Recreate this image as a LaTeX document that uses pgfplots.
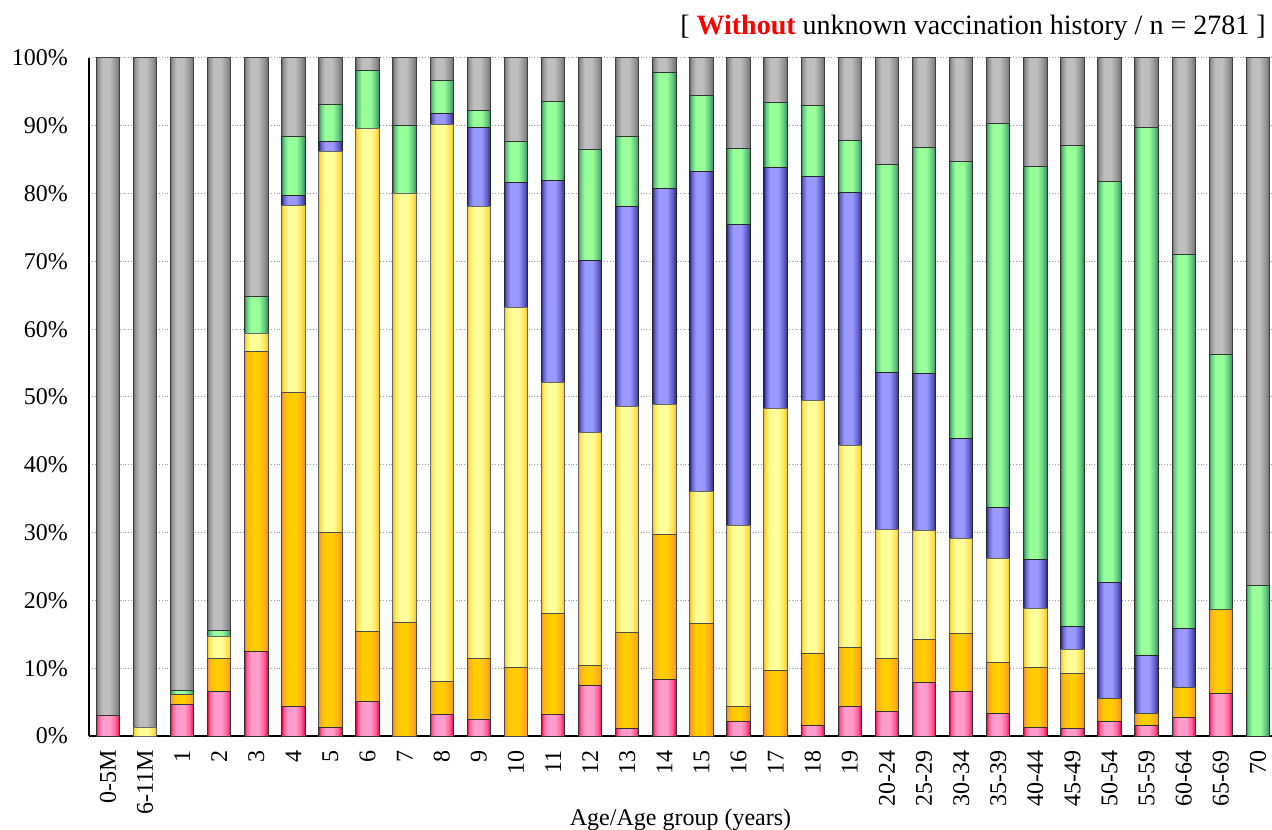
\documentclass[border=0pt]{standalone}
\usepackage{pgfplots}
\usepackage{pgfplotstable}
\pgfplotsset{compat=1.18}
\usepackage{fontspec}
\setmainfont{Liberation Serif}

\definecolor{pinkE}{HTML}{E8002E}
\definecolor{pinkM}{HTML}{FF5C96}
\definecolor{pinkC}{HTML}{FF9CCC}
\definecolor{orE}{HTML}{F58A2A}
\definecolor{orM}{HTML}{FFAE1A}
\definecolor{orC}{HTML}{FFCC00}
\definecolor{yeE}{HTML}{F5C21F}
\definecolor{yeM}{HTML}{FFE45C}
\definecolor{yeC}{HTML}{FFFF99}
\definecolor{blE}{HTML}{2A2A85}
\definecolor{blM}{HTML}{6060C8}
\definecolor{blC}{HTML}{9999FF}
\definecolor{grE}{HTML}{2E8A5C}
\definecolor{grM}{HTML}{62C87E}
\definecolor{grC}{HTML}{99FF99}
\definecolor{gyE}{HTML}{6E6E6E}
\definecolor{gyM}{HTML}{969696}
\definecolor{gyC}{HTML}{BEBEBE}

\pgfdeclarehorizontalshading{pinkshade}{100bp}{color(0bp)=(pinkE); color(25bp)=(pinkE); color(29bp)=(pinkM); color(38bp)=(pinkC); color(55bp)=(pinkC); color(67bp)=(pinkM); color(75bp)=(pinkE); color(100bp)=(pinkE)}
\pgfdeclarehorizontalshading{orshade}{100bp}{color(0bp)=(orE); color(25bp)=(orE); color(29bp)=(orM); color(38bp)=(orC); color(55bp)=(orC); color(67bp)=(orM); color(75bp)=(orE); color(100bp)=(orE)}
\pgfdeclarehorizontalshading{yeshade}{100bp}{color(0bp)=(yeE); color(25bp)=(yeE); color(29bp)=(yeM); color(38bp)=(yeC); color(55bp)=(yeC); color(67bp)=(yeM); color(75bp)=(yeE); color(100bp)=(yeE)}
\pgfdeclarehorizontalshading{blshade}{100bp}{color(0bp)=(blE); color(25bp)=(blE); color(29bp)=(blM); color(38bp)=(blC); color(55bp)=(blC); color(67bp)=(blM); color(75bp)=(blE); color(100bp)=(blE)}
\pgfdeclarehorizontalshading{grshade}{100bp}{color(0bp)=(grE); color(25bp)=(grE); color(29bp)=(grM); color(38bp)=(grC); color(55bp)=(grC); color(67bp)=(grM); color(75bp)=(grE); color(100bp)=(grE)}
\pgfdeclarehorizontalshading{gyshade}{100bp}{color(0bp)=(gyE); color(25bp)=(gyE); color(29bp)=(gyM); color(38bp)=(gyC); color(53bp)=(gyC); color(66bp)=(gyM); color(75bp)=(gyE); color(100bp)=(gyE)}

\pgfplotstableread{
k  p    o    y    b    g    r
0  3.0  0.0  0.0  0.0  0.0  97.0
1  0.0  0.0  1.3  0.0  0.0  98.7
2  4.7  1.4  0.0  0.0  0.6  93.3
3  6.5  5.0  3.2  0.0  0.8  84.5
4  12.5 44.2 2.7  0.0  5.4  35.2
5  4.3  46.4 27.5 1.5  8.7  11.6
6  1.3  28.7 56.2 1.5  5.5  6.8
7  5.1  10.3 74.2 0.0  8.6  1.8
8  0.0  16.7 63.3 0.0  10.0 10.0
9  3.2  4.9  82.1 1.6  4.9  3.3
10 2.5  9.0  66.6 11.7 2.5  7.7
11 0.0  10.1 53.1 18.5 6.0  12.3
12 3.1  14.9 34.1 29.8 11.7 6.4
13 7.4  3.0  34.3 25.5 16.3 13.5
14 1.1  14.2 33.3 29.5 10.3 11.6
15 8.4  21.3 19.2 31.8 17.2 2.1
16 0.0  16.6 19.5 47.2 11.1 5.6
17 2.2  2.2  26.6 44.5 11.2 13.3
18 0.0  9.6  38.7 35.6 9.6  6.5
19 1.6  10.5 37.4 33.0 10.5 7.0
20 4.3  8.8  29.7 37.4 7.7  12.1
21 3.6  7.9  19.0 23.1 30.7 15.7
22 7.9  6.4  16.0 23.2 33.3 13.2
23 6.6  8.5  14.1 14.7 40.8 15.3
24 3.3  7.6  15.3 7.5  56.7 9.6
25 1.3  8.8  8.7  7.3  57.9 16.0
26 1.1  8.1  3.5  3.5  70.9 12.9
27 2.2  3.4  0.0  17.1 59.1 18.2
28 1.6  1.7  0.0  8.5  78.0 10.2
29 2.8  4.4  0.0  8.7  55.1 29.0
30 6.2  12.5 0.0  0.0  37.5 43.8
31 0.0  0.0  0.0  0.0  22.2 77.8
}\datatable

\pgfplotsset{
  segment/.style n args={2}{
    fill=none, draw=none,
    point meta=explicit symbolic,
    nodes near coords={},
    every node near coord/.style={anchor=center, inner sep=0pt, outer sep=0pt,
      minimum width=11.7pt, minimum height=\pgfplotspointmeta*3.39pt,
      shade, shading=#1shade, draw=#2, line width=0.5pt},
  },
}

\begin{document}
\begin{tikzpicture}
\begin{axis}[
  scale only axis,
  width=591.5pt, height=339pt,
  ybar stacked,
  bar width=11.7pt,
  xmin=-0.51, xmax=31.38,
  ymin=0, ymax=100,
  axis x line*=bottom, axis y line*=left,
  axis line style={-, black, line width=0.7pt},
  major tick length=0pt,
  xtick={0,...,31},
  xticklabels={0-5M,6-11M,1,2,3,4,5,6,7,8,9,10,11,12,13,14,15,16,17,18,19,20-24,25-29,30-34,35-39,40-44,45-49,50-54,55-59,60-64,65-69,70},
  xticklabel style={rotate=90, anchor=east, font=\fontsize{12}{14}\selectfont, xshift=-3.5pt},
  ytick={0,10,...,100},
  yticklabels={0\%,10\%,20\%,30\%,40\%,50\%,60\%,70\%,80\%,90\%,100\%},
  yticklabel style={font=\fontsize{12}{14}\selectfont, xshift=-7pt},
  ymajorgrids,
  grid style={gray!80, densely dotted, line width=0.5pt},
  xlabel={Age/Age group (years)},
  xlabel style={at={(axis description cs:0.5,0)}, anchor=base, yshift=-44.5pt, font=\fontsize{12}{14}\selectfont},
  clip=false,
]
\addplot[segment={pink}{black!80}] table[x=k, y=p, meta=p] {\datatable};
\addplot[segment={or}{black!70}] table[x=k, y=o, meta=o] {\datatable};
\addplot[segment={ye}{black!60}] table[x=k, y=y, meta=y] {\datatable};
\addplot[segment={bl}{black!85}] table[x=k, y=b, meta=b] {\datatable};
\addplot[segment={gr}{black!80}] table[x=k, y=g, meta=g] {\datatable};
\addplot[segment={gy}{black!75}] table[x=k, y=r, meta=r] {\datatable};
\node[anchor=base east, font=\fontsize{14}{16}\selectfont, inner sep=0pt] at ([xshift=-3pt, yshift=11.5pt]rel axis cs:1,1) {[ \textcolor{red}{\textbf{Without}} unknown vaccination history / n = 2781 ]};
\end{axis}
\pgfresetboundingbox
\path[use as bounding box] ([xshift=-44.5pt,yshift=-46.5pt]current axis.south west) rectangle ([yshift=29pt]current axis.north east);
\end{tikzpicture}
\end{document}
